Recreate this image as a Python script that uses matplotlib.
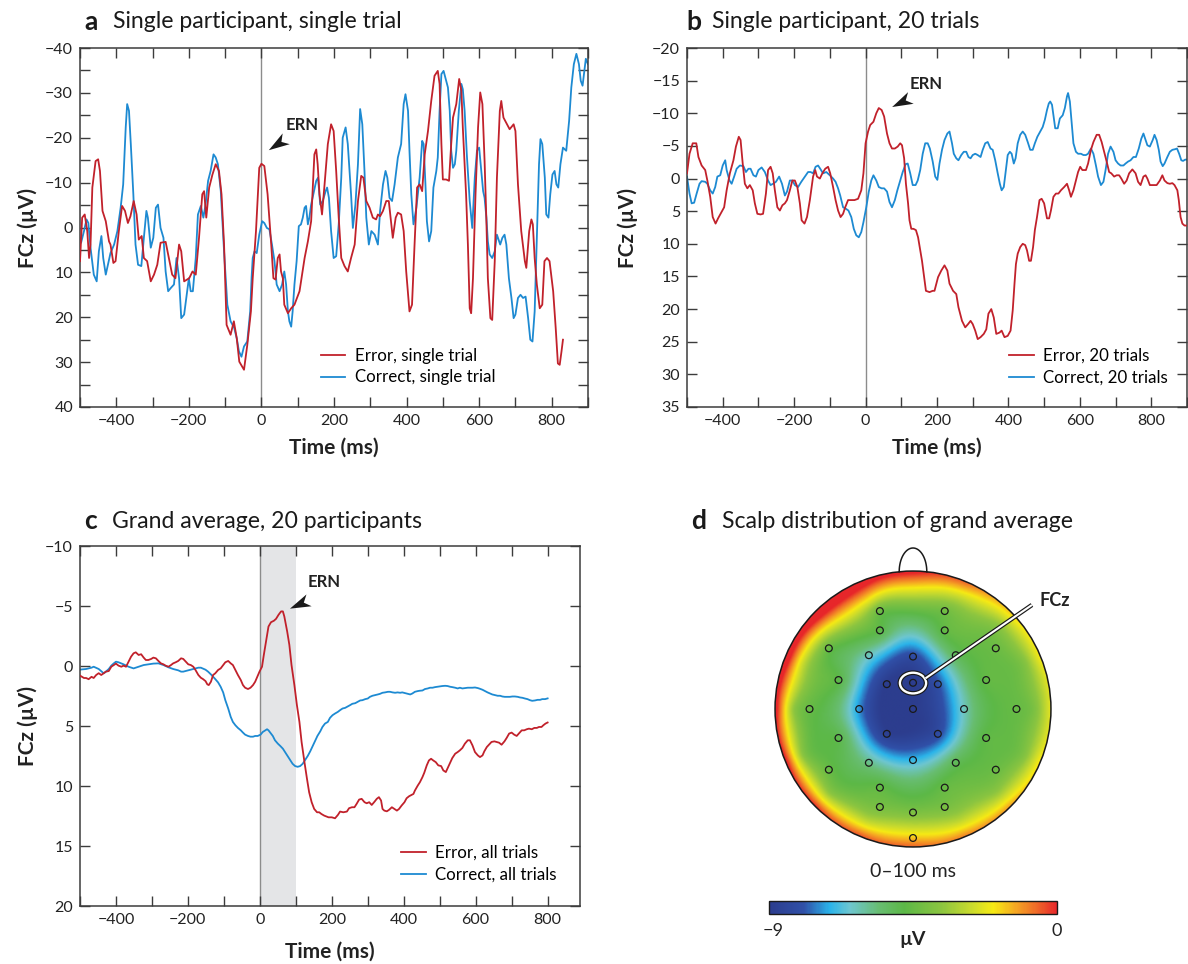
import numpy as np
import matplotlib
matplotlib.use('Agg')
import matplotlib.pyplot as plt
from matplotlib.colors import LinearSegmentedColormap, Normalize
from matplotlib.cm import ScalarMappable
from matplotlib.patches import Circle, Ellipse
from matplotlib.path import Path
from matplotlib.markers import MarkerStyle
from matplotlib.transforms import Affine2D
from matplotlib.ticker import MultipleLocator
import matplotlib.patheffects as pe

plt.rcParams['font.family'] = ['Lato', 'DejaVu Sans']

# ---- data: (time ms, amplitude uV) ----
a_error = [(-500,7.5),(-494,-2.2),(-487,-2.9),(-480,0.8),(-475,6.8),(-471,3.8),(-466,-8.9),(-457,-14.8),(-450,-15.2),(-445,-12.6),
    (-438,-3.7),(-429,-1.4),(-420,3.1),(-416,3.8),(-408,7.9),(-402,7.5),(-393,0.8),(-384,-4.8),(-376,-3.7),(-368,-1.0),
    (-361,-2.5),(-352,-5.9),(-344,-2.9),(-338,2.7),(-330,1.9),(-324,6.8),(-315,7.5),(-305,12.0),(-296,10.5),(-287,8.3),
    (-278,3.4),(-264,3.2),(-255,6.8),(-246,10.5),(-237,11.3),(-227,3.8),(-221,5.3),(-213,12.0),(-199,11.3),(-190,9.8),
    (-181,10.5),(-172,2.3),(-163,-7.4),(-158,-8.1),(-152,-2.2),(-144,-8.9),(-135,-11.8),(-126,-14.1),(-117,-12.6),(-110,-7.4),
    (-103,3.8),(-96,21.7),(-85,23.9),(-76,20.9),(-68,24.7),(-61,29.9),(-48,31.7),(-39,26.2),(-29,18.7),
    (-24,11.3),(-15,0.8),(-6,-13.3),(0,-14.2),(8,-13.7),(17,-7.4),(27,3.8),(33,11.3),(39,11.6),(45,6.8),(50,6.0),(54,9.8),
    (59,11.3),(63,17.2),(73,19.1),(82,18.0),(91,17.2),(105,14.2),(119,6.8),(128,3.1),(137,-1.4),(146,-16.3),(151,-17.4),
    (155,-14.1),(160,-7.4),(167,-2.9),(174,-9.6),(183,-18.6),(192,-23.0),(199,-21.5),(206,-12.6),(213,-2.2),(220,6.8),
    (229,8.6),(238,9.8),(247,6.8),(257,3.8),(266,-5.9),(275,-11.5),(281,-11.1),(289,-5.9),(298,-4.4),(307,-2.2),(316,-1.8),
    (321,-2.9),(327,-2.5),(335,-3.7),(344,-5.9),(351,-5.9),(358,-0.7),(362,2.3),(370,-2.2),(376,-3.3),(385,-2.9),(392,0.8),
    (399,9.8),(408,18.7),(415,17.2),(422,3.8),(429,-8.9),(436,-9.6),(443,-8.1),
    (450,-16.3),(459,-21.5),(468,-28.2),(477,-33.8),(486,-34.9),(491,-32.0),(496,-18.6),(500,-10.7),(509,-10.7),(517,-10.4),
    (523,-18.6),(528,-24.5),(537,-27.5),(545,-33.1),(551,-30.5),(555,-22.3),(564,-7.4),(569,3.8),(574,18.0),(578,19.1),
    (583,11.3),(590,-7.4),(597,-22.3),(603,-30.1),(609,-27.5),(615,-14.8),(620,-1.4),(624,11.3),(631,20.2),(636,20.6),
    (643,7.5),(649,-11.1),(657,-26.0),(661,-28.2),(667,-24.5),(677,-23.0),(684,-21.9),(695,-23.0),(700,-21.5),(707,-9.6),
    (716,0.8),(726,7.5),(730,9.0),(738,0.8),(744,-1.8),(748,-0.7),(753,6.8),(759,12.7),(767,18.0),(774,17.2),(780,7.5),
    (787,6.8),(794,7.5),(804,14.2),(811,22.4),(817,30.3),(822,30.6),(827,27.6),(831,25.0)]

a_correct = [(-500,2.3),(-497,3.4),(-489,0.8),(-482,-1.8),(-477,-1.0),(-471,4.5),(-462,10.5),(-454,12.0),(-448,5.3),(-441,1.9),
    (-436,6.8),(-429,10.5),(-423,8.3),(-416,5.7),(-406,3.8),(-397,0.8),(-388,-4.4),(-381,-9.6),(-374,-22.3),(-370,-27.5),
    (-365,-26.0),(-360,-18.6),(-353,-7.4),(-347,3.8),(-340,8.3),(-331,8.6),(-324,2.3),(-317,-3.7),(-313,-2.2),(-305,4.5),
    (-298,2.3),(-291,-4.4),(-285,-5.1),(-278,0.1),(-270,2.3),(-264,9.8),(-257,14.2),(-250,13.5),(-241,12.7),(-234,6.8),
    (-227,11.3),(-221,20.2),(-213,19.4),(-206,15.0),(-200,11.3),(-195,14.2),(-189,14.2),(-181,6.8),(-175,-2.9),(-167,-4.8),
    (-160,-2.2),(-154,-5.1),(-147,-10.4),(-140,-12.6),(-132,-16.3),(-126,-15.6),(-120,-14.1),(-112,-8.1),(-103,5.3),(-94,17.2),
    (-85,20.9),(-75,22.4),(-68,24.7),(-62,27.6),(-55,28.8),(-48,26.5),(-39,25.4),(-31,18.7),(-27,11.0),
    (-24,6.8),(-19,5.3),(-13,5.7),(-6,1.6),(2,-1.4),(8,-1.0),(15,0.1),(22,0.4),(29,3.8),(36,7.5),(42,12.7),(50,14.2),
    (57,12.7),(63,9.8),(68,12.7),(73,18.7),(77,20.9),(82,22.1),(86,18.7),(91,12.7),(97,7.5),(103,-0.3),(109,-0.7),
    (114,-2.2),(119,-4.4),(123,-4.8),(128,-0.7),(132,-2.2),(137,-5.1),(143,-7.4),(151,-10.4),(156,-11.1),(162,-5.1),
    (169,-5.9),(177,-8.1),(181,-8.9),(186,-6.6),(192,0.8),(199,6.8),(206,6.4),(213,-0.7),(220,-11.1),(224,-20.0),
    (232,-22.3),(238,-18.6),(247,-7.4),(252,0.1),(259,-5.1),(266,-14.1),(272,-26.4),(278,-23.0),(284,-12.6),(289,-2.2),
    (296,3.8),(303,0.8),(312,1.6),(321,3.8),(327,-3.7),(335,-9.6),(342,-12.6),(347,-11.1),(353,-6.6),(360,-5.9),
    (367,-9.6),(376,-15.6),(385,-18.6),(392,-27.5),(397,-29.7),(404,-26.0),(408,-17.1),(413,-7.4),(419,-0.7),(427,-4.4),
    (436,-11.1),(443,-19.3),(447,-18.6),(452,-9.6),(456,-1.4),(462,3.1),(468,0.8),(474,-8.9),(482,-12.6),(486,-15.6),
    (491,-26.0),(496,-34.2),(502,-34.9),(509,-32.7),(514,-31.2),(519,-26.0),(523,-17.1),(528,-13.3),(533,-14.1),(537,-17.1),
    (544,-26.0),(551,-32.0),(555,-30.8),(560,-26.0),(566,-16.3),(574,-5.9),(581,0.1),(588,-11.1),(594,-17.1),(600,-17.8),
    (605,-13.3),(611,-8.1),(615,-6.6),(620,-2.2),(624,3.1),(629,6.0),(636,6.8),(643,5.3),(649,1.6),(655,3.1),(658,3.8),
    (664,2.3),(670,1.6),(675,3.8),(682,11.3),(689,15.7),(695,20.2),(700,19.4),(707,15.7),(714,15.0),(721,15.7),(728,15.4),
    (735,20.2),(741,25.0),(747,25.4),(753,18.7),(759,2.3),(765,-14.1),(769,-19.7),(774,-18.6),(781,-11.1),(785,-2.9),
    (791,-2.2),(796,-7.4),(802,-11.8),(808,-12.6),(813,-9.6),(818,-8.9),(824,-14.1),(831,-17.8),(840,-17.1),(848,-23.8),
    (854,-31.2),(861,-36.4),(868,-38.7),(875,-36.4),(880,-32.7),(885,-31.6),(889,-34.2),(894,-37.6),(900,-36.4)]

b_error = [(-500,-0.8),(-493,-3.8),(-484,-5.4),(-474,-5.4),(-468,-3.3),(-459,-2.0),(-449,-1.3),(-443,0.3),(-435,2.8),(-428,5.9),
    (-420,6.9),(-413,6.1),(-406,5.4),(-396,4.4),(-389,1.8),(-380,-0.8),(-370,-2.8),(-363,-4.9),(-355,-6.4),(-350,-5.9),
    (-344,-2.3),(-338,0.8),(-331,1.5),(-324,1.0),(-316,1.8),(-310,3.8),(-303,5.4),(-294,5.5),(-287,5.4),(-279,2.3),
    (-273,-1.3),(-266,-1.8),(-260,-0.8),(-254,1.8),(-247,4.4),(-240,4.9),(-233,4.1),(-226,3.8),(-220,3.3),(-212,1.8),
    (-205,0.3),(-198,0.3),(-191,1.3),(-184,3.8),(-179,6.4),(-171,6.9),(-164,5.9),(-156,3.3),(-147,-0.3),(-141,-1.3),
    (-136,-0.3),(-128,0.0),(-121,-0.8),(-113,-1.5),(-105,-1.8),(-99,-0.8),(-91,1.3),(-84,3.3),(-77,4.9),(-70,5.9),
    (-63,5.4),(-57,4.4),(-49,3.3),(-40,3.3),(-31,3.3),(-21,3.1),(-12,1.8),(-6,-0.8),(0,-5.4),(7,-7.2),(13,-8.2),(22,-8.7),
    (30,-10.0),(37,-10.8),(45,-10.5),(52,-9.5),(60,-6.9),(67,-5.4),(74,-4.6),(82,-4.6),(90,-4.9),(97,-5.4),(102,-5.1),
    (108,-3.1),(113,0.8),(119,3.8),(123,6.4),(128,7.7),(134,7.7),(141,7.9),(147,9.0),(153,11.0),(158,12.6),(164,15.1),
    (169,17.2),(179,17.4),(188,17.2),(193,17.2),(203,15.1),(212,14.1),(221,13.3),(229,14.1),(235,16.1),(245,17.2),
    (254,17.7),(260,19.7),(270,21.8),(279,22.8),(287,22.3),(294,21.8),(300,22.3),(307,23.3),(314,24.6),(322,24.3),
    (331,23.8),(338,23.1),(344,20.7),(352,20.0),(359,21.3),(366,23.8),(375,23.6),(381,23.3),(389,24.3),(398,24.1),
    (406,23.3),(412,20.2),(417,16.1),(421,13.1),(426,11.5),(433,10.5),(440,10.0),(447,10.2),(452,11.0),(458,12.6),
    (463,12.6),(469,10.5),(474,7.9),(480,5.9),(487,3.3),(493,3.1),(500,3.8),(508,6.1),(514,6.1),(519,4.9),(526,2.8),
    (533,2.3),(540,2.3),(547,1.8),(556,1.3),(564,0.8),(570,1.8),(575,2.8),(582,1.8),(589,0.3),(595,-1.0),(601,-1.8),
    (607,-1.3),(617,-1.3),(623,-2.3),(631,-4.4),(638,-5.6),(647,-6.7),(654,-6.7),(661,-5.6),(668,-4.1),(675,-2.6),
    (682,-1.0),(688,-0.8),(696,-0.3),(703,-0.5),(710,-0.5),(716,0.0),(724,0.8),(731,0.3),(738,-0.8),(747,-1.4),
    (756,-0.8),(763,0.5),(770,1.0),(778,-0.3),(784,-0.5),(789,0.0),(796,1.0),(806,1.0),(815,1.0),(824,0.3),(831,-0.5),
    (837,0.3),(845,0.7),(852,0.8),(859,0.7),(865,1.0),(873,1.8),(877,3.3),(882,5.9),(887,6.9),(893,7.2),(900,7.2)]

b_correct = [(-500,-0.3),(-493,2.3),(-487,3.8),(-480,3.7),(-473,2.3),(-465,0.8),(-459,0.4),(-449,0.5),(-443,0.8),(-435,1.8),
    (-428,2.3),(-421,1.3),(-415,-0.3),(-407,-0.5),(-400,-2.0),(-393,-2.8),(-389,-1.3),(-381,0.3),(-375,0.8),(-368,-0.3),
    (-361,-1.5),(-352,-2.0),(-342,-1.9),(-335,-1.0),(-328,-1.5),(-322,-1.5),(-314,-0.5),(-307,-0.3),(-300,-1.3),(-291,-1.7),
    (-282,-1.0),(-273,0.3),(-266,1.0),(-259,0.8),(-251,0.5),(-242,-0.3),(-234,0.8),(-226,2.6),(-220,2.0),(-212,0.3),
    (-205,0.3),(-198,1.0),(-189,1.3),(-180,0.5),(-170,-0.3),(-161,-1.0),(-154,-1.0),(-147,-0.8),(-140,-1.8),(-133,-2.0),
    (-127,-1.5),(-119,-0.8),(-110,-1.0),(-100,-0.5),(-91,0.0),(-84,0.5),(-77,1.5),(-71,2.6),(-63,4.4),(-56,4.6),(-48,4.9),
    (-40,5.9),(-33,7.7),(-26,8.7),(-19,9.0),(-12,8.2),(-6,6.7),(2,4.4),(9,2.0),(16,0.3),(22,-0.5),(30,0.3),(37,1.3),
    (45,1.5),(52,1.5),(60,2.0),(67,3.6),(74,4.4),(82,3.3),(89,1.8),(97,0.3),(104,-1.0),(112,-2.2),(118,-2.3),(125,-0.8),
    (132,1.0),(140,1.0),(146,0.3),(153,-1.3),(160,-3.8),(167,-5.4),(174,-5.4),(180,-4.6),(188,-2.6),(195,-0.3),(201,0.2),
    (207,-2.3),(214,-4.4),(221,-5.9),(229,-6.9),(235,-7.2),(242,-5.4),(247,-3.8),(254,-3.1),(260,-2.8),(268,-3.6),
    (275,-4.1),(282,-4.1),(288,-3.3),(294,-3.1),(300,-3.6),(307,-3.8),(314,-3.6),(322,-3.3),(328,-4.4),(335,-5.4),
    (342,-5.6),(350,-4.6),(356,-4.4),(363,-2.8),(370,-0.8),(376,0.8),(381,1.8),(387,1.3),(393,-1.3),(398,-3.6),
    (404,-4.1),(409,-3.8),(415,-2.3),(420,-3.1),(426,-5.4),(433,-6.7),(440,-7.2),(447,-6.7),(454,-5.6),(461,-4.4),
    (468,-4.4),(474,-5.4),(481,-6.4),(489,-7.2),(496,-7.9),(502,-9.0),(508,-10.5),(513,-11.5),(517,-11.8),(522,-11.3),
    (526,-9.7),(531,-7.7),(538,-7.7),(544,-9.2),(552,-9.7),(558,-10.8),(564,-12.6),(567,-13.1),(572,-11.8),(577,-8.5),
    (582,-5.4),(589,-4.1),(595,-3.8),(603,-3.8),(610,-3.6),(617,-3.6),(623,-3.8),(631,-4.6),(638,-3.8),(645,-2.0),
    (651,-0.3),(659,1.0),(666,0.5),(672,-1.3),(679,-3.8),(686,-4.9),(694,-4.1),(700,-2.8),(707,-2.3),(714,-2.0),
    (722,-2.0),(728,-2.3),(735,-2.6),(742,-2.8),(750,-3.3),(757,-3.3),(765,-4.6),(772,-6.1),(778,-6.9),(781,-6.4),
    (789,-5.1),(796,-4.9),(804,-5.9),(809,-6.7),(815,-5.9),(821,-4.4),(826,-2.6),(832,-1.9),(837,-2.3),(845,-3.3),
    (852,-4.1),(859,-4.4),(867,-4.5),(872,-4.6),(878,-3.8),(884,-2.8),(889,-2.7),(895,-2.9),(900,-2.9)]

c_error = [(-500,0.8),(-489,1.0),(-483,1.0),(-476,1.1),(-468,0.9),(-462,1.0),(-455,0.75),(-448,0.6),(-441,0.75),(-434,0.6),
    (-428,0.47),(-420,0.42),(-413,0.06),(-406,-0.08),(-400,-0.2),(-393,-0.03),(-385,0.06),(-379,-0.03),(-372,0.06),
    (-365,-0.36),(-358,-0.78),(-351,-1.06),(-345,-1.14),(-337,-0.92),(-330,-0.98),(-323,-0.7),(-317,-0.5),(-310,-0.5),
    (-302,-0.59),(-296,-0.7),(-289,-0.64),(-282,-0.42),(-275,-0.22),(-268,-0.14),(-262,-0.03),(-254,0.06),(-247,-0.08),
    (-241,-0.22),(-234,-0.31),(-227,-0.42),(-219,-0.64),(-213,-0.59),(-206,-0.36),(-199,-0.14),(-192,-0.08),(-185,0.06),
    (-179,0.33),(-171,0.75),(-164,0.98),(-158,1.09),(-151,1.26),(-146,1.53),(-142,1.59),(-136,1.31),(-130,0.75),
    (-124,0.61),(-116,0.33),(-109,0.2),(-102,-0.08),(-96,-0.31),(-88,-0.42),(-81,-0.22),(-75,-0.08),(-68,0.33),(-61,0.75),
    (-53,1.17),(-47,1.59),(-41,1.81),(-33,1.92),(-26,1.81),(-19,1.59),(-13,1.31),(-7,0.89),(-1,0.47),(6,0.06),(11,-0.92),
    (18,-2.18),(24,-3.29),(31,-3.65),(39,-3.77),(45,-3.93),(52,-4.27),(59,-4.55),(64,-4.55),(68,-4.13),(76,-2.87),
    (82,-1.76),(88,-0.08),(96,1.59),(103,3.26),(110,4.66),(116,6.33),(124,8.01),(131,9.4),(137,10.52),(144,11.35),
    (151,11.91),(159,12.19),(165,12.19),(171,12.33),(179,12.47),(191,12.61),(200,12.61),(209,12.69),(217,12.41),
    (223,12.13),(232,12.19),(242,12.13),(248,11.85),(256,11.77),(263,11.77),(269,11.49),(276,11.13),(283,11.07),
    (291,11.35),(297,11.44),(304,11.35),(311,11.58),(319,11.3),(325,11.07),(331,10.93),(337,11.21),(341,11.91),
    (346,12.05),(353,12.11),(359,11.99),(367,11.77),(374,11.91),(381,12.05),(387,11.91),(394,11.63),(402,11.35),
    (408,11.02),(415,10.85),(422,10.74),(427,10.66),(431,10.38),(439,9.96),(445,9.68),(452,9.26),(457,8.9),(464,8.28),
    (470,7.87),(476,7.73),(482,7.87),(489,8.01),(496,8.28),(504,8.34),(510,8.7),(517,8.84),(522,8.51),(529,8.06),
    (535,7.67),(543,7.31),(550,7.17),(556,7.03),(563,6.83),(570,6.47),(578,6.19),(584,6.19),(591,6.61),(598,7.17),
    (606,7.45),(612,7.59),(619,7.45),(624,7.11),(631,6.75),(637,6.56),(644,6.33),(652,6.28),(658,6.33),(665,6.39),
    (672,6.56),(680,6.28),(686,6.0),(693,5.63),(700,5.55),(707,5.72),(714,5.83),(720,5.63),(728,5.36),(735,5.36),
    (742,5.27),(748,5.22),(756,5.27),(763,5.16),(770,5.16),(776,5.08),(783,5.08),(788,4.94),(794,4.8),(800,4.71)]

c_correct = [(-500,0.3),(-483,0.25),(-468,0.14),(-462,0.06),(-448,0.25),(-434,0.61),(-428,0.47),(-420,0.25),(-413,-0.03),
    (-406,-0.22),(-400,-0.36),(-393,-0.31),(-379,-0.14),(-365,0.06),(-351,0.2),(-337,0.06),(-323,-0.08),(-310,-0.14),
    (-296,-0.2),(-282,-0.22),(-268,-0.08),(-254,0.11),(-241,0.25),(-227,0.36),(-219,0.47),(-213,0.47),(-199,0.36),
    (-185,0.25),(-171,0.14),(-164,0.14),(-151,0.31),(-144,0.47),(-136,0.7),(-130,0.89),(-124,1.09),(-116,1.37),
    (-109,1.73),(-102,2.2),(-96,2.85),(-88,3.54),(-81,4.24),(-75,4.66),(-68,4.94),(-61,5.16),(-53,5.36),(-47,5.55),
    (-41,5.72),(-33,5.83),(-26,5.89),(-19,5.89),(-13,5.83),(-6,5.83),(2,5.72),(8,5.5),(15,5.36),(20,5.27),(24,5.36),
    (29,5.55),(36,5.83),(42,6.19),(50,6.47),(57,6.67),(64,6.89),(70,7.17),(77,7.5),(85,7.87),(91,8.15),(98,8.34),
    (105,8.4),(112,8.34),(119,8.15),(125,7.87),(133,7.5),(140,7.11),(147,6.67),(153,6.28),(160,5.83),(168,5.44),
    (174,5.08),(181,4.8),(189,4.66),(195,4.32),(202,4.1),(209,3.96),(217,3.82),(223,3.68),(230,3.54),(237,3.49),
    (244,3.38),(251,3.26),(257,3.15),(265,3.1),(272,2.98),(279,2.87),(285,2.85),(293,2.76),(300,2.71),(306,2.57),
    (313,2.48),(320,2.43),(328,2.37),(334,2.32),(341,2.23),(348,2.2),(356,2.15),(362,2.15),(369,2.2),(376,2.23),
    (383,2.2),(390,2.23),(396,2.2),(404,2.26),(411,2.32),(418,2.37),(424,2.29),(431,2.15),(439,2.09),(445,2.06),
    (452,2.04),(459,1.92),(467,1.87),(473,1.81),(480,1.81),(487,1.76),(494,1.73),(501,1.7),(507,1.67),(515,1.65),
    (522,1.67),(529,1.73),(535,1.76),(543,1.81),(550,1.87),(556,1.81),(563,1.87),(570,1.84),(578,1.81),(584,1.81),
    (591,1.81),(598,1.79),(606,1.84),(612,1.9),(619,1.98),(626,2.09),(633,2.2),(640,2.29),(646,2.37),(654,2.43),
    (661,2.48),(668,2.48),(674,2.54),(681,2.57),(689,2.57),(695,2.57),(702,2.54),(709,2.54),(717,2.57),(723,2.62),
    (730,2.65),(737,2.71),(744,2.76),(751,2.85),(757,2.9),(765,2.87),(772,2.82),(779,2.82),(785,2.76),(793,2.76),(800,2.7)]

# scalp map: electrode positions (unit head radius, nose up) and mean amplitude 0-100 ms (uV)
elec_x = [-0.24, 0.23, -0.24, 0.23, -0.61, 0.60, -0.32, 0.0, 0.31, -0.54, -0.19, 0.0, 0.18, 0.53,
          -0.75, -0.39, 0.0, 0.37, 0.75, -0.54, -0.19, 0.18, 0.53, -0.61, -0.32, 0.0, 0.31, 0.60,
          -0.24, 0.23, -0.24, 0.0, 0.23, 0.0]
elec_y = [0.71, 0.71, 0.57, 0.57, 0.44, 0.44, 0.39, 0.38, 0.39, 0.21, 0.18, 0.19, 0.18, 0.21,
          0.0, 0.0, 0.0, 0.0, 0.0, -0.21, -0.18, -0.18, -0.21, -0.44, -0.39, -0.37, -0.39, -0.44,
          -0.57, -0.57, -0.71, -0.75, -0.71, -0.935]
elec_val = [-4.4, -4.3, -4.8, -4.6, -4.5, -4.4, -6.3, -8.2, -5.2, -4.8, -9.0, -9.0, -8.0, -4.6,
            -4.5, -7.4, -9.0, -6.3, -4.5, -4.9, -8.8, -8.2, -4.7, -4.5, -5.8, -7.0, -5.1, -4.4,
            -4.6, -4.5, -4.1, -4.0, -4.1, -1.6]
# outer control rings (head edge and just inside it)
ring_angle = [0, 22.5, 45, 67.5, 90, 112.5, 135, 157.5, 180, 202.5, 225, 247.5, 270, 292.5, 315, 337.5]
ring_val = [-4.1, -3.9, -3.6, -2.9, -2.2, -1.8, -1.8, -2.6, -3.5, -3.6, -3.4, -3.0, -2.6, -3.0, -3.4, -3.9]
rim_val = [-2.3, -2.0, -1.6, -0.6, 0.2, 0.8, 1.2, 0.9, 0.4, 0.2, -0.1, -0.4, -0.6, -0.9, -1.2, -1.9]

RED = '#c1212b'
BLUE = '#1d8ad2'
SPINE = '#3c3c3c'
INK = '#222222'

fig = plt.figure(figsize=(11.88, 9.64), dpi=100)


def wave_axes(rect, xlim, ylim, ymaj, ymin):
    ax = fig.add_axes(rect)
    ax.set_xlim(*xlim)
    ax.set_ylim(ylim[1], ylim[0])      # negative up
    ax.xaxis.set_major_locator(MultipleLocator(200))
    ax.xaxis.set_minor_locator(MultipleLocator(100))
    ax.yaxis.set_major_locator(MultipleLocator(ymaj))
    ax.yaxis.set_minor_locator(MultipleLocator(ymin))
    ax.tick_params(which='both', direction='in', top=True, right=True, length=7,
                   width=1.0, color=SPINE, labelsize=11.5, pad=5, labelcolor=INK)
    for s in ax.spines.values():
        s.set_color(SPINE)
        s.set_linewidth(1.1)
    ax.set_xlabel('Time (ms)', fontsize=15, fontweight='bold', color=INK)
    ax.set_ylabel('FCz (µV)', fontsize=15, fontweight='bold', color=INK)
    ax.axvline(0, color='#8c8c8c', lw=1.0, zorder=1)
    return ax


def plot_pair(ax, err, cor, labels, leg_xy):
    t, v = np.array(err).T
    ax.plot(t, v, color=RED, lw=1.3, label=labels[0], zorder=3)
    t, v = np.array(cor).T
    ax.plot(t, v, color=BLUE, lw=1.3, label=labels[1], zorder=2)
    h, l = ax.get_legend_handles_labels()
    ax.legend(h, l, loc='lower left', bbox_to_anchor=leg_xy, frameon=False, fontsize=12.2,
              handlelength=1.45, handletextpad=0.55, labelspacing=0.35, borderpad=0, borderaxespad=0)


head = Path([(1, 0), (-1, 0.62), (-0.45, 0), (-1, -0.62), (1, 0)],
            [Path.MOVETO, Path.LINETO, Path.LINETO, Path.LINETO, Path.CLOSEPOLY])


def ern(ax, tip, base, text_xy):
    p1 = ax.transData.transform(tip)
    p0 = ax.transData.transform(base)
    ang = np.degrees(np.arctan2(p1[1] - p0[1], p1[0] - p0[0]))
    mid = ax.transData.inverted().transform((p0 + p1) / 2)
    m = MarkerStyle(head, transform=Affine2D().rotate_deg(ang))
    ax.plot([mid[0]], [mid[1]], marker=m, markersize=15, color='#1a1a1a', mec='none', zorder=5)
    ax.text(text_xy[0], text_xy[1], 'ERN', fontsize=12, fontweight='bold', color=INK,
            ha='left', va='center')


W, H = 1188, 964

# panel a
ax_a = wave_axes([80 / W, 1 - 407 / H, 508 / W, 359 / H], (-500, 900), (-40, 40), 10, 5)
plot_pair(ax_a, a_error, a_correct, ['Error, single trial', 'Correct, single trial'], (0.474, 0.06))
ern(ax_a, (19, -17.2), (68, -19.8), (66, -22.8))
ax_a.xaxis.set_label_coords(0.5, -0.086)
ax_a.yaxis.set_label_coords(-0.083, 0.5)

# panel b
ax_b = wave_axes([687 / W, 1 - 407 / H, 500 / W, 359 / H], (-500, 900), (-20, 35), 5, 5)
plot_pair(ax_b, b_error, b_correct, ['Error, 20 trials', 'Correct, 20 trials'], (0.644, 0.06))
ern(ax_b, (74, -11.0), (127, -12.4), (123, -14.5))
ax_b.xaxis.set_label_coords(0.5, -0.086)
ax_b.yaxis.set_label_coords(-0.098, 0.5)

# panel c
ax_c = wave_axes([80 / W, 1 - 906 / H, 500 / W, 360 / H], (-500, 890), (-10, 20), 5, 5)
ax_c.axvspan(0, 100, color='#e4e5e7', lw=0, zorder=0)
plot_pair(ax_c, c_error, c_correct, ['Error, all trials', 'Correct, all trials'], (0.642, 0.064))
ern(ax_c, (87, -4.9), (133, -5.5), (133, -7.0))
ax_c.xaxis.set_label_coords(0.5, -0.1)
ax_c.yaxis.set_label_coords(-0.084, 0.5)

# panel d: scalp map
ax_d = fig.add_axes([740 / W, 1 - 880 / H, 350 / W, 350 / H])
ax_d.set_xlim(-1.254, 1.283)
ax_d.set_ylim(-1.239, 1.297)
ax_d.axis('off')

topo_cmap = LinearSegmentedColormap.from_list('topo', [
    (0.00, '#2c3d8e'), (0.12, '#3050a8'), (0.21, '#2ab4ea'), (0.28, '#6ec6d0'),
    (0.38, '#68bd72'), (0.47, '#5cb847'), (0.60, '#8cc540'), (0.70, '#c8da2e'),
    (0.78, '#f6ea14'), (0.86, '#f5a523'), (0.93, '#ef6a29'), (1.00, '#e7262a')])
norm = Normalize(-9, 0)

ra = np.radians(ring_angle)
src = np.column_stack([
    np.concatenate([elec_x, 0.87 * np.cos(ra), np.cos(ra)]),
    np.concatenate([elec_y, 0.87 * np.sin(ra), np.sin(ra)])])
vals = np.concatenate([elec_val, ring_val, rim_val])


def tps_kernel(a, b):
    d = np.sqrt(((a[:, None, :] - b[None, :, :]) ** 2).sum(-1))
    with np.errstate(divide='ignore', invalid='ignore'):
        k = np.where(d > 0, d ** 2 * np.log(d), 0.0)
    return k


n = len(src)
P = np.hstack([np.ones((n, 1)), src])
A = np.zeros((n + 3, n + 3))
A[:n, :n] = tps_kernel(src, src)
A[:n, n:] = P
A[n:, :n] = P.T
coef = np.linalg.solve(A, np.concatenate([vals, np.zeros(3)]))

g = np.linspace(-1, 1, 241)
GX, GY = np.meshgrid(g, g)
q = np.column_stack([GX.ravel(), GY.ravel()])
Z = tps_kernel(q, src) @ coef[:n] + np.hstack([np.ones((len(q), 1)), q]) @ coef[n:]
Z = Z.reshape(GX.shape)

im = ax_d.imshow(Z, extent=[-1, 1, -1, 1], origin='lower', cmap=topo_cmap, norm=norm,
                 interpolation='bilinear', zorder=1)
clip = Circle((0, 0), 1, transform=ax_d.transData)
im.set_clip_path(clip)
ax_d.add_patch(Circle((0, 0), 1, fill=False, ec='#1a1a1a', lw=1.1, zorder=3))
th = np.linspace(0, np.pi, 60)
ax_d.plot(0.1 * np.cos(th), 0.995 + 0.172 * np.sin(th), color='#1a1a1a', lw=1.1)
ax_d.scatter(elec_x, elec_y, s=24, facecolors='none', edgecolors='#1a1a1a', linewidths=0.9, zorder=4)
ax_d.add_patch(Ellipse((0, 0.188), 0.19, 0.15, fill=False, ec='#1a1a1a', lw=3.4, zorder=5))
ax_d.add_patch(Ellipse((0, 0.188), 0.19, 0.15, fill=False, ec='white', lw=1.7, zorder=6))
ax_d.plot([0.09, 0.862], [0.222, 0.754], color='white', lw=1.5, solid_capstyle='butt', zorder=6,
          path_effects=[pe.Stroke(linewidth=3.2, foreground='#1a1a1a'), pe.Normal()])
ax_d.text(0.92, 0.79, 'FCz', fontsize=13, fontweight='bold', color=INK, ha='left', va='center')
ax_d.text(0.0, -1.18, '0–100 ms', fontsize=14, color=INK, ha='center', va='center')

cax = fig.add_axes([769 / W, 1 - 914 / H, 288 / W, 13.5 / H])
cb = fig.colorbar(ScalarMappable(norm=norm, cmap=topo_cmap), cax=cax, orientation='horizontal')
cb.set_ticks([])
cb.outline.set_linewidth(1.0)
cb.outline.set_edgecolor('#1a1a1a')
fig.text(773 / W, 1 - 931 / H, '−9', fontsize=13, color=INK, ha='center', va='center')
fig.text(1057 / W, 1 - 931 / H, '0', fontsize=13, color=INK, ha='center', va='center')
fig.text(913 / W, 1 - 940 / H, 'µV', fontsize=14, fontweight='bold', color=INK, ha='center', va='center')

# panel titles
for lx, tx, y, letter, title in [(84, 113, 22, 'a', 'Single participant, single trial'),
                                 (686, 712, 22, 'b', 'Single participant, 20 trials'),
                                 (84, 112, 521, 'c', 'Grand average, 20 participants'),
                                 (691, 722, 521, 'd', 'Scalp distribution of grand average')]:
    fig.text(lx / W, 1 - y / H, letter, fontsize=19, fontweight='bold', color='#1a1a1a', ha='left', va='center')
    fig.text(tx / W, 1 - y / H, title, fontsize=16.6, color='#1a1a1a', ha='left', va='center')

fig.savefig('out.png', dpi=100)
